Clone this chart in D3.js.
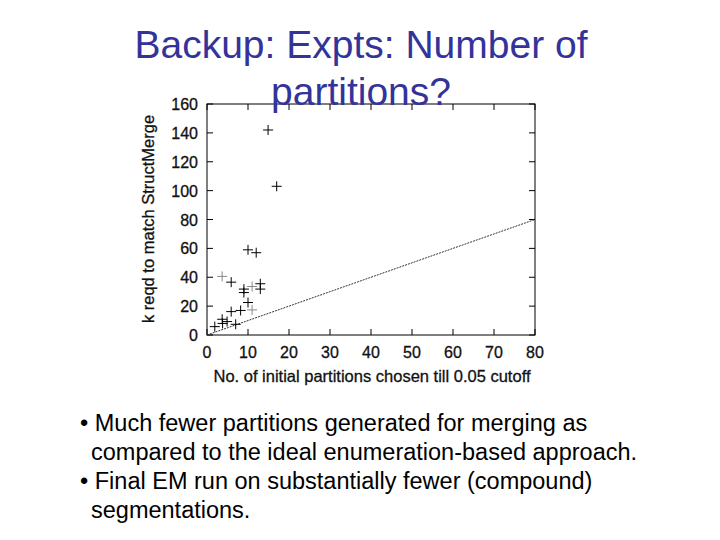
<!DOCTYPE html><html><head><meta charset="utf-8"><script src="https://cdn.jsdelivr.net/npm/d3@7"></script>
<style>body{margin:0;background:#fff}</style></head><body><svg id="c" width="720" height="540"></svg><script>
const xs=[14.9,17,10,12,3.7,5.9,9,9,11,13,13,10,5.9,8.2,11,3.7,4.9,7,1.9,3.8];
const ys=[142,103,59,57,40.6,36.6,31.8,29.4,33.6,35.5,31.8,22.5,16.2,17,17.4,10.9,9.3,7.4,5.8,8];
const grey=[4,8,14];
const xTicks=[0,10,20,30,40,50,60,70,80];
const yTicks=[0,20,40,60,80,100,120,140,160];
const svg=d3.select("#c");
const x=d3.scaleLinear().domain([0,80]).range([207,535]);
const y=d3.scaleLinear().domain([0,160]).range([335,104]);
const font="Liberation Sans, Arial, sans-serif";
svg.append("rect").attr("x",207).attr("y",104).attr("width",328).attr("height",231).attr("fill","none").attr("stroke","#000");
const g=svg.append("g").attr("font-family",font).attr("font-size",16).attr("fill","#111").attr("stroke","#111").attr("stroke-width",0.3);
xTicks.forEach(t=>{g.append("line").attr("x1",x(t)).attr("x2",x(t)).attr("y1",335).attr("y2",329).attr("stroke","#000").attr("stroke-width",1);
g.append("line").attr("x1",x(t)).attr("x2",x(t)).attr("y1",104).attr("y2",110).attr("stroke","#000").attr("stroke-width",1);
g.append("text").attr("x",x(t)).attr("y",358).attr("text-anchor","middle").text(t);});
yTicks.forEach(t=>{g.append("line").attr("x1",207).attr("x2",213).attr("y1",y(t)).attr("y2",y(t)).attr("stroke","#000").attr("stroke-width",1);
g.append("line").attr("x1",535).attr("x2",529).attr("y1",y(t)).attr("y2",y(t)).attr("stroke","#000").attr("stroke-width",1);
g.append("text").attr("x",198).attr("y",y(t)+6).attr("text-anchor","end").text(t);});
g.append("text").attr("x",372).attr("y",382).attr("text-anchor","middle").attr("font-size",16.5).text("No. of initial partitions chosen till 0.05 cutoff");
g.append("text").attr("transform","translate(154,219) rotate(-90)").attr("text-anchor","middle").attr("font-size",16.5).text("k reqd to match StructMerge");
svg.append("line").attr("x1",x(0)).attr("y1",y(0)).attr("x2",x(80)).attr("y2",y(80)).attr("stroke","#333").attr("stroke-dasharray","2,1");
xs.forEach((v,i)=>{const cx=x(v),cy=y(ys[i]),c=grey.includes(i)?"#888":"#000";
svg.append("line").attr("x1",cx-5).attr("x2",cx+5).attr("y1",cy).attr("y2",cy).attr("stroke",c);
svg.append("line").attr("x1",cx).attr("x2",cx).attr("y1",cy-5).attr("y2",cy+5).attr("stroke",c);});
const t=svg.append("g").attr("font-family",font).attr("fill","#333399").attr("font-size",39).attr("text-anchor","middle");
t.append("text").attr("x",361).attr("y",58).text("Backup: Expts: Number of");
t.append("text").attr("x",361).attr("y",105).text("partitions?");
const b=svg.append("g").attr("font-family",font).attr("font-size",23.5).attr("fill","#000");
[["• Much fewer partitions generated for merging as",80,431],["compared to the ideal enumeration-based approach.",91,460],["• Final EM run on substantially fewer (compound)",80,489],["segmentations.",91,518]].forEach(d=>b.append("text").attr("x",d[1]).attr("y",d[2]).text(d[0]));
</script></body></html>
